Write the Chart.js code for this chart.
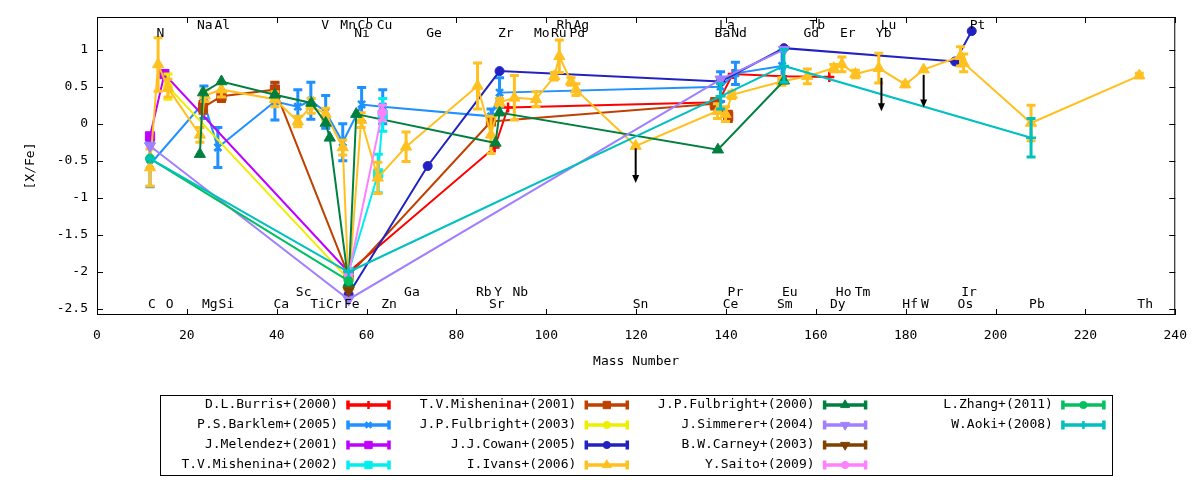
<!DOCTYPE html>
<html><head><meta charset="utf-8">
<script src="https://cdn.jsdelivr.net/npm/chart.js@4.4.0/dist/chart.umd.min.js"></script>
<style>html,body{margin:0;padding:0;background:#fff;}canvas{display:block;}</style>
</head><body>
<canvas id="c" width="1200" height="480" style="width:1200px;height:480px"></canvas>
<script>
// ---------------- DATA ----------------
const xTicks = [0,20,40,60,80,100,120,140,160,180,200,220,240];
const yTicks = [-2.5,-2,-1.5,-1,-0.5,0,0.5,1];

const seriesNames = ['D.L.Burris+(2000)','P.S.Barklem+(2005)','J.Melendez+(2001)','T.V.Mishenina+(2002)',
  'T.V.Mishenina+(2001)','J.P.Fulbright+(2003)','J.J.Cowan+(2005)','I.Ivans+(2006)',
  'J.P.Fulbright+(2000)','J.Simmerer+(2004)','B.W.Carney+(2003)','Y.Saito+(2009)',
  'L.Zhang+(2011)','W.Aoki+(2008)'];

const burrisX = [56, 88.5, 91.5, 138.3, 141.5, 152.5, 163];
const burrisY = [-2.0, -0.32, 0.22, 0.29, 0.67, 0.64, 0.63];
const burrisE = [0, 0, 0, 0, 0, 0, 0];

const barklemX = [11.8, 23.8, 26.9, 39.6, 44.7, 47.6, 50.9, 54.7, 58.9, 63.6, 87.7, 89.6, 138.8, 142.1, 152.5];
const barklemY = [-0.55, 0.29, -0.32, 0.30, 0.23, 0.31, 0.16, -0.25, 0.26, 0.23, 0.10, 0.42, 0.50, 0.68, 0.78];
const barklemE = [0.30, 0.22, 0.27, 0.25, 0.23, 0.25, 0.22, 0.25, 0.23, 0.23, 0.10, 0.20, 0.20, 0.15, 0.20];

const melendezX = [11.8, 15.0, 56];
const melendezY = [-0.17, 0.67, -2.0];
const melendezE = [0, 0, 0];

const mish02X = [56, 62.6, 63.6];
const mish02Y = [-2.0, -0.67, 0.12];
const mish02E = [0, 0.26, 0.22];

const mish01X = [23.6, 27.7, 39.6, 56, 87.7, 137.5, 140.5];
const mish01Y = [0.22, 0.37, 0.46, -2.05, 0.03, 0.27, 0.10];
const mish01E = [0.08, 0.07, 0.10, 0, 0, 0.07, 0.07];

const fulb03X = [15.8, 56];
const fulb03Y = [0.50, -2.1];
const fulb03E = [0.17, 0];

const cowanX = [56, 73.6, 89.6, 138.8, 152.9, 191, 194.7];
const cowanY = [-2.3, -0.57, 0.71, 0.57, 1.02, 0.84, 1.25];
const cowanE = [0, 0, 0, 0, 0, 0, 0];

const ivansX = [11.8, 13.6, 15.8, 22.9, 24.0, 27.7, 39.6, 44.7, 47.7, 50.9, 54.7, 56, 58.8, 62.5, 68.8,
  84.7, 87.7, 89.6, 92.9, 97.7, 101.8, 102.9, 105.5, 106.6, 119.9, 138.1, 139.9, 141.3, 152.4, 158.1,
  164.0, 165.8, 168.8, 174.0, 179.9, 184.0, 192.2, 192.9, 207.9, 232.0];
const ivansY = [-0.59, 0.80, 0.48, -0.15, 0.38, 0.46, 0.33, 0.03, 0.24, 0.13, -0.32, -2.2, 0.05, -0.73, -0.31,
  0.51, -0.15, 0.29, 0.35, 0.33, 0.64, 0.91, 0.57, 0.46, -0.30, 0.17, 0.13, 0.39, 0.57, 0.64,
  0.75, 0.80, 0.67, 0.75, 0.53, 0.73, 0.91, 0.82, 0.01, 0.65];
const ivansE = [0.25, 0.36, 0.12, 0.10, 0.08, 0.10, 0.10, 0.07, 0.10, 0.08, 0.10, 0, 0.10, 0.21, 0.20,
  0.31, 0.25, 0.05, 0.30, 0.10, 0.05, 0.22, 0.05, 0.08, 0, 0.10, 0.10, 0.05, 0.05, 0.10,
  0.05, 0.10, 0.05, 0.20, 0.03, 0, 0.13, 0.12, 0.24, 0.03];

const fulb00X = [22.9, 23.6, 27.7, 39.6, 47.7, 50.9, 51.8, 56, 57.7, 88.7, 89.6, 138.2, 152.9];
const fulb00Y = [-0.41, 0.42, 0.57, 0.39, 0.28, 0.01, -0.19, -2.15, 0.13, -0.26, 0.15, -0.35, 0.58];
const fulb00E = [0, 0, 0, 0, 0, 0, 0, 0, 0, 0, 0, 0, 0];

const simmererX = [11.8, 56, 138.8, 152.9];
const simmererY = [-0.30, -2.37, 0.60, 1.00];
const simmererE = [0, 0, 0, 0];

const carneyX = [56];
const carneyY = [-2.25];
const carneyE = [0];

const saitoX = [56, 63.5];
const saitoY = [-2.03, 0.15];
const saitoE = [0, 0.10];

const zhangX = [11.8, 56];
const zhangY = [-0.47, -2.12];
const zhangE = [0, 0];

const aokiX = [11.8, 56, 138.8, 152.9, 207.9];
const aokiY = [-0.47, -2.0, 0.37, 0.78, -0.19];
const aokiE = [0, 0, 0.17, 0.22, 0.26];

// upper limits (arrows)
const limitX = [119.9, 174.6, 184.0];
const limitFrom = [-0.33, 0.62, 0.66];
const limitTo = [-0.80, 0.17, 0.22];

// element labels
const labTop1 = ['Na','Al','V','Mn','Co','Cu','Rh','Ag','La','Tb','Lu','Pt'];
const labTop1X = [24.0, 27.9, 50.8, 55.9, 59.7, 64.0, 104.0, 107.8, 140.2, 160.3, 176.2, 196.0];
const labTop2 = ['N','Ni','Ge','Zr','Mo','Ru','Pd','Ba','Nd','Gd','Er','Yb'];
const labTop2X = [14.1, 59.0, 75.0, 91.0, 99.0, 102.8, 106.9, 139.2, 142.9, 159.0, 167.1, 175.1];
const labBot1 = ['Sc','Ga','Rb','Y','Nb','Pr','Eu','Ho','Tm','Ir'];
const labBot1X = [46.0, 70.1, 86.1, 89.3, 94.2, 142.1, 154.2, 166.2, 170.4, 194.1];
const labBot2 = ['C','O','Mg','Si','Ca','Ti','Cr','Fe','Zn','Sr','Sn','Ce','Sm','Dy','Hf','W','Os','Pb','Th'];
const labBot2X = [12.2, 16.2, 25.1, 28.8, 41.0, 49.2, 52.7, 56.7, 65.0, 89.0, 121.0, 141.0, 153.1, 164.9, 181.0, 184.3, 193.3, 209.2, 233.3];
const labRowY = [1.33, 1.21, -2.28, -2.44];

// ---------------- STYLES ----------------
const seriesColors = ['#ff0000','#1e90ff','#c000ff','#00eeee','#c04000','#eeee00','#2222c0','#ffc020',
  '#008040','#a080ff','#804000','#ff80ff','#00c060','#00c0c0'];
const seriesPoint = ['cross','crossRot','rect','rect','rect','circle','circle','triangle',
  'triangle','triangle','triangle','circle','circle','cross'];
const seriesRot = [0,0,0,0,0,0,0,0,0,180,180,0,0,0];
const seriesRadius = [5,5,6.5,6.5,6.5,4.5,4.5,6.5,6.5,6.5,6.5,4.5,4.5,5];

const allX = [burrisX,barklemX,melendezX,mish02X,mish01X,fulb03X,cowanX,ivansX,fulb00X,simmererX,carneyX,saitoX,zhangX,aokiX];
const allY = [burrisY,barklemY,melendezY,mish02Y,mish01Y,fulb03Y,cowanY,ivansY,fulb00Y,simmererY,carneyY,saitoY,zhangY,aokiY];
const allE = [burrisE,barklemE,melendezE,mish02E,mish01E,fulb03E,cowanE,ivansE,fulb00E,simmererE,carneyE,saitoE,zhangE,aokiE];

const FONT = "'DejaVu Sans Mono', monospace";

const datasets = seriesNames.map((name, i) => ({
  label: name,
  data: allX[i].map((x, k) => ({x: x, y: allY[i][k]})),
  errors: allE[i],
  showLine: true,
  borderColor: seriesColors[i],
  backgroundColor: seriesColors[i],
  borderWidth: 2,
  pointStyle: seriesPoint[i],
  pointRotation: seriesRot[i],
  pointRadius: seriesRadius[i],
  pointHoverRadius: seriesRadius[i],
  pointBorderWidth: (seriesPoint[i] === 'cross' || seriesPoint[i] === 'crossRot') ? 2.5 : 1,
  order: 100 - i
}));

// ---------------- PLUGINS ----------------
const errorBarPlugin = {
  id: 'errbars',
  beforeDatasetDraw(chart, args) {
    const ds = chart.data.datasets[args.index];
    if (!ds.errors) return;
    const ctx = chart.ctx, xs = chart.scales.x, ys = chart.scales.y, a = chart.chartArea;
    ctx.save();
    ctx.beginPath(); ctx.rect(a.left, a.top, a.right - a.left, a.bottom - a.top); ctx.clip();
    ctx.strokeStyle = ds.borderColor; ctx.lineWidth = 3; ctx.lineCap = 'butt';
    ds.data.forEach((p, k) => {
      const e = ds.errors[k]; if (!e) return;
      const px = xs.getPixelForValue(p.x);
      const y1 = ys.getPixelForValue(p.y - e), y2 = ys.getPixelForValue(p.y + e);
      ctx.beginPath();
      ctx.moveTo(px, y1); ctx.lineTo(px, y2);
      ctx.moveTo(px - 4.5, y1); ctx.lineTo(px + 4.5, y1);
      ctx.moveTo(px - 4.5, y2); ctx.lineTo(px + 4.5, y2);
      ctx.stroke();
    });
    ctx.restore();
  }
};

const framePlugin = {
  id: 'frame',
  afterDatasetsDraw(chart) {
    const ctx = chart.ctx, a = chart.chartArea, xs = chart.scales.x, ys = chart.scales.y;
    ctx.save();
    // upper-limit arrows
    ctx.strokeStyle = '#000'; ctx.fillStyle = '#000'; ctx.lineWidth = 2;
    limitX.forEach((x, k) => {
      const px = xs.getPixelForValue(x);
      const p1 = ys.getPixelForValue(limitFrom[k]), p2 = ys.getPixelForValue(limitTo[k]);
      ctx.beginPath(); ctx.moveTo(px, p1); ctx.lineTo(px, p2 - 6); ctx.stroke();
      ctx.beginPath(); ctx.moveTo(px - 3.5, p2 - 8); ctx.lineTo(px + 3.5, p2 - 8); ctx.lineTo(px, p2); ctx.closePath(); ctx.fill();
    });
    // element labels
    ctx.fillStyle = '#000'; ctx.font = '13px ' + FONT; ctx.textAlign = 'center'; ctx.textBaseline = 'middle';
    [[labTop1, labTop1X], [labTop2, labTop2X], [labBot1, labBot1X], [labBot2, labBot2X]].forEach((row, r) => {
      const py = ys.getPixelForValue(labRowY[r]);
      row[0].forEach((t, k) => ctx.fillText(t, xs.getPixelForValue(row[1][k]), py));
    });
    // frame
    ctx.strokeStyle = '#000'; ctx.lineWidth = 1;
    ctx.strokeRect(a.left + 0.5, a.top + 0.5, a.right - a.left - 1, a.bottom - a.top - 1);
    ctx.beginPath();
    xTicks.forEach(v => {
      const px = Math.round(xs.getPixelForValue(v)) + 0.5;
      ctx.moveTo(px, a.bottom); ctx.lineTo(px, a.bottom - 6);
      ctx.moveTo(px, a.top); ctx.lineTo(px, a.top + 6);
    });
    yTicks.forEach(v => {
      const py = Math.round(ys.getPixelForValue(v)) + 0.5;
      ctx.moveTo(a.left, py); ctx.lineTo(a.left + 6, py);
      ctx.moveTo(a.right, py); ctx.lineTo(a.right - 6, py);
    });
    ctx.stroke();
    ctx.restore();
  },
  afterDraw(chart) {
    const ctx = chart.ctx, a = chart.chartArea;
    ctx.save();
    ctx.fillStyle = '#000'; ctx.font = '13px ' + FONT; ctx.textBaseline = 'middle';
    // axis titles
    ctx.textAlign = 'center';
    ctx.fillText('Mass Number', (a.left + a.right) / 2, 362);
    ctx.save(); ctx.translate(31, (a.top + a.bottom) / 2); ctx.rotate(-Math.PI / 2);
    ctx.fillText('[X/Fe]', 0, 0); ctx.restore();
    // legend box
    ctx.strokeStyle = '#000'; ctx.lineWidth = 1;
    ctx.strokeRect(160.5, 395.5, 952, 80);
    chart.data.datasets.forEach((ds, i) => {
      const col = Math.floor(i / 4), row = i % 4;
      const tx = 338 + col * 238.3, ty = 405 + row * 20;
      ctx.fillStyle = '#000'; ctx.textAlign = 'right';
      ctx.fillText(ds.label, tx, ty);
      const x1 = tx + 9, x2 = tx + 52;
      ctx.strokeStyle = ds.borderColor; ctx.fillStyle = ds.backgroundColor; ctx.lineWidth = 3.5;
      ctx.beginPath();
      ctx.moveTo(x1, ty); ctx.lineTo(x2, ty);
      ctx.moveTo(x1 + 1, ty - 4.5); ctx.lineTo(x1 + 1, ty + 4.5);
      ctx.moveTo(x2 - 1, ty - 4.5); ctx.lineTo(x2 - 1, ty + 4.5);
      ctx.stroke();
      ctx.lineWidth = ds.pointBorderWidth;
      Chart.helpers.drawPoint(ctx, {pointStyle: ds.pointStyle, rotation: ds.pointRotation,
        radius: ds.pointRadius * 0.8, borderWidth: ds.pointBorderWidth}, (x1 + x2) / 2, ty);
    });
    ctx.restore();
  }
};

new Chart(document.getElementById('c'), {
  type: 'scatter',
  data: {datasets: datasets},
  options: {
    responsive: false, animation: false, devicePixelRatio: 1,
    layout: {padding: {left: 0, right: 23, top: 17, bottom: 0}},
    plugins: {legend: {display: false}, tooltip: {enabled: false}},
    scales: {
      x: {
        type: 'linear', min: 0, max: 240,
        afterFit(s) { s.height = 165; },
        afterBuildTicks(s) { s.ticks = xTicks.map(v => ({value: v})); },
        grid: {display: false, drawTicks: false}, border: {display: false},
        ticks: {padding: 13, color: '#000', font: {family: FONT, size: 13}, maxRotation: 0, autoSkip: false}
      },
      y: {
        type: 'linear', min: -2.58, max: 1.44,
        afterFit(s) { s.width = 97; },
        afterBuildTicks(s) { s.ticks = yTicks.map(v => ({value: v})); },
        grid: {display: false, drawTicks: false}, border: {display: false},
        ticks: {padding: 9, color: '#000', font: {family: FONT, size: 13}, autoSkip: false,
          callback: v => String(v)}
      }
    }
  },
  plugins: [errorBarPlugin, framePlugin]
});
</script>
</body></html>
